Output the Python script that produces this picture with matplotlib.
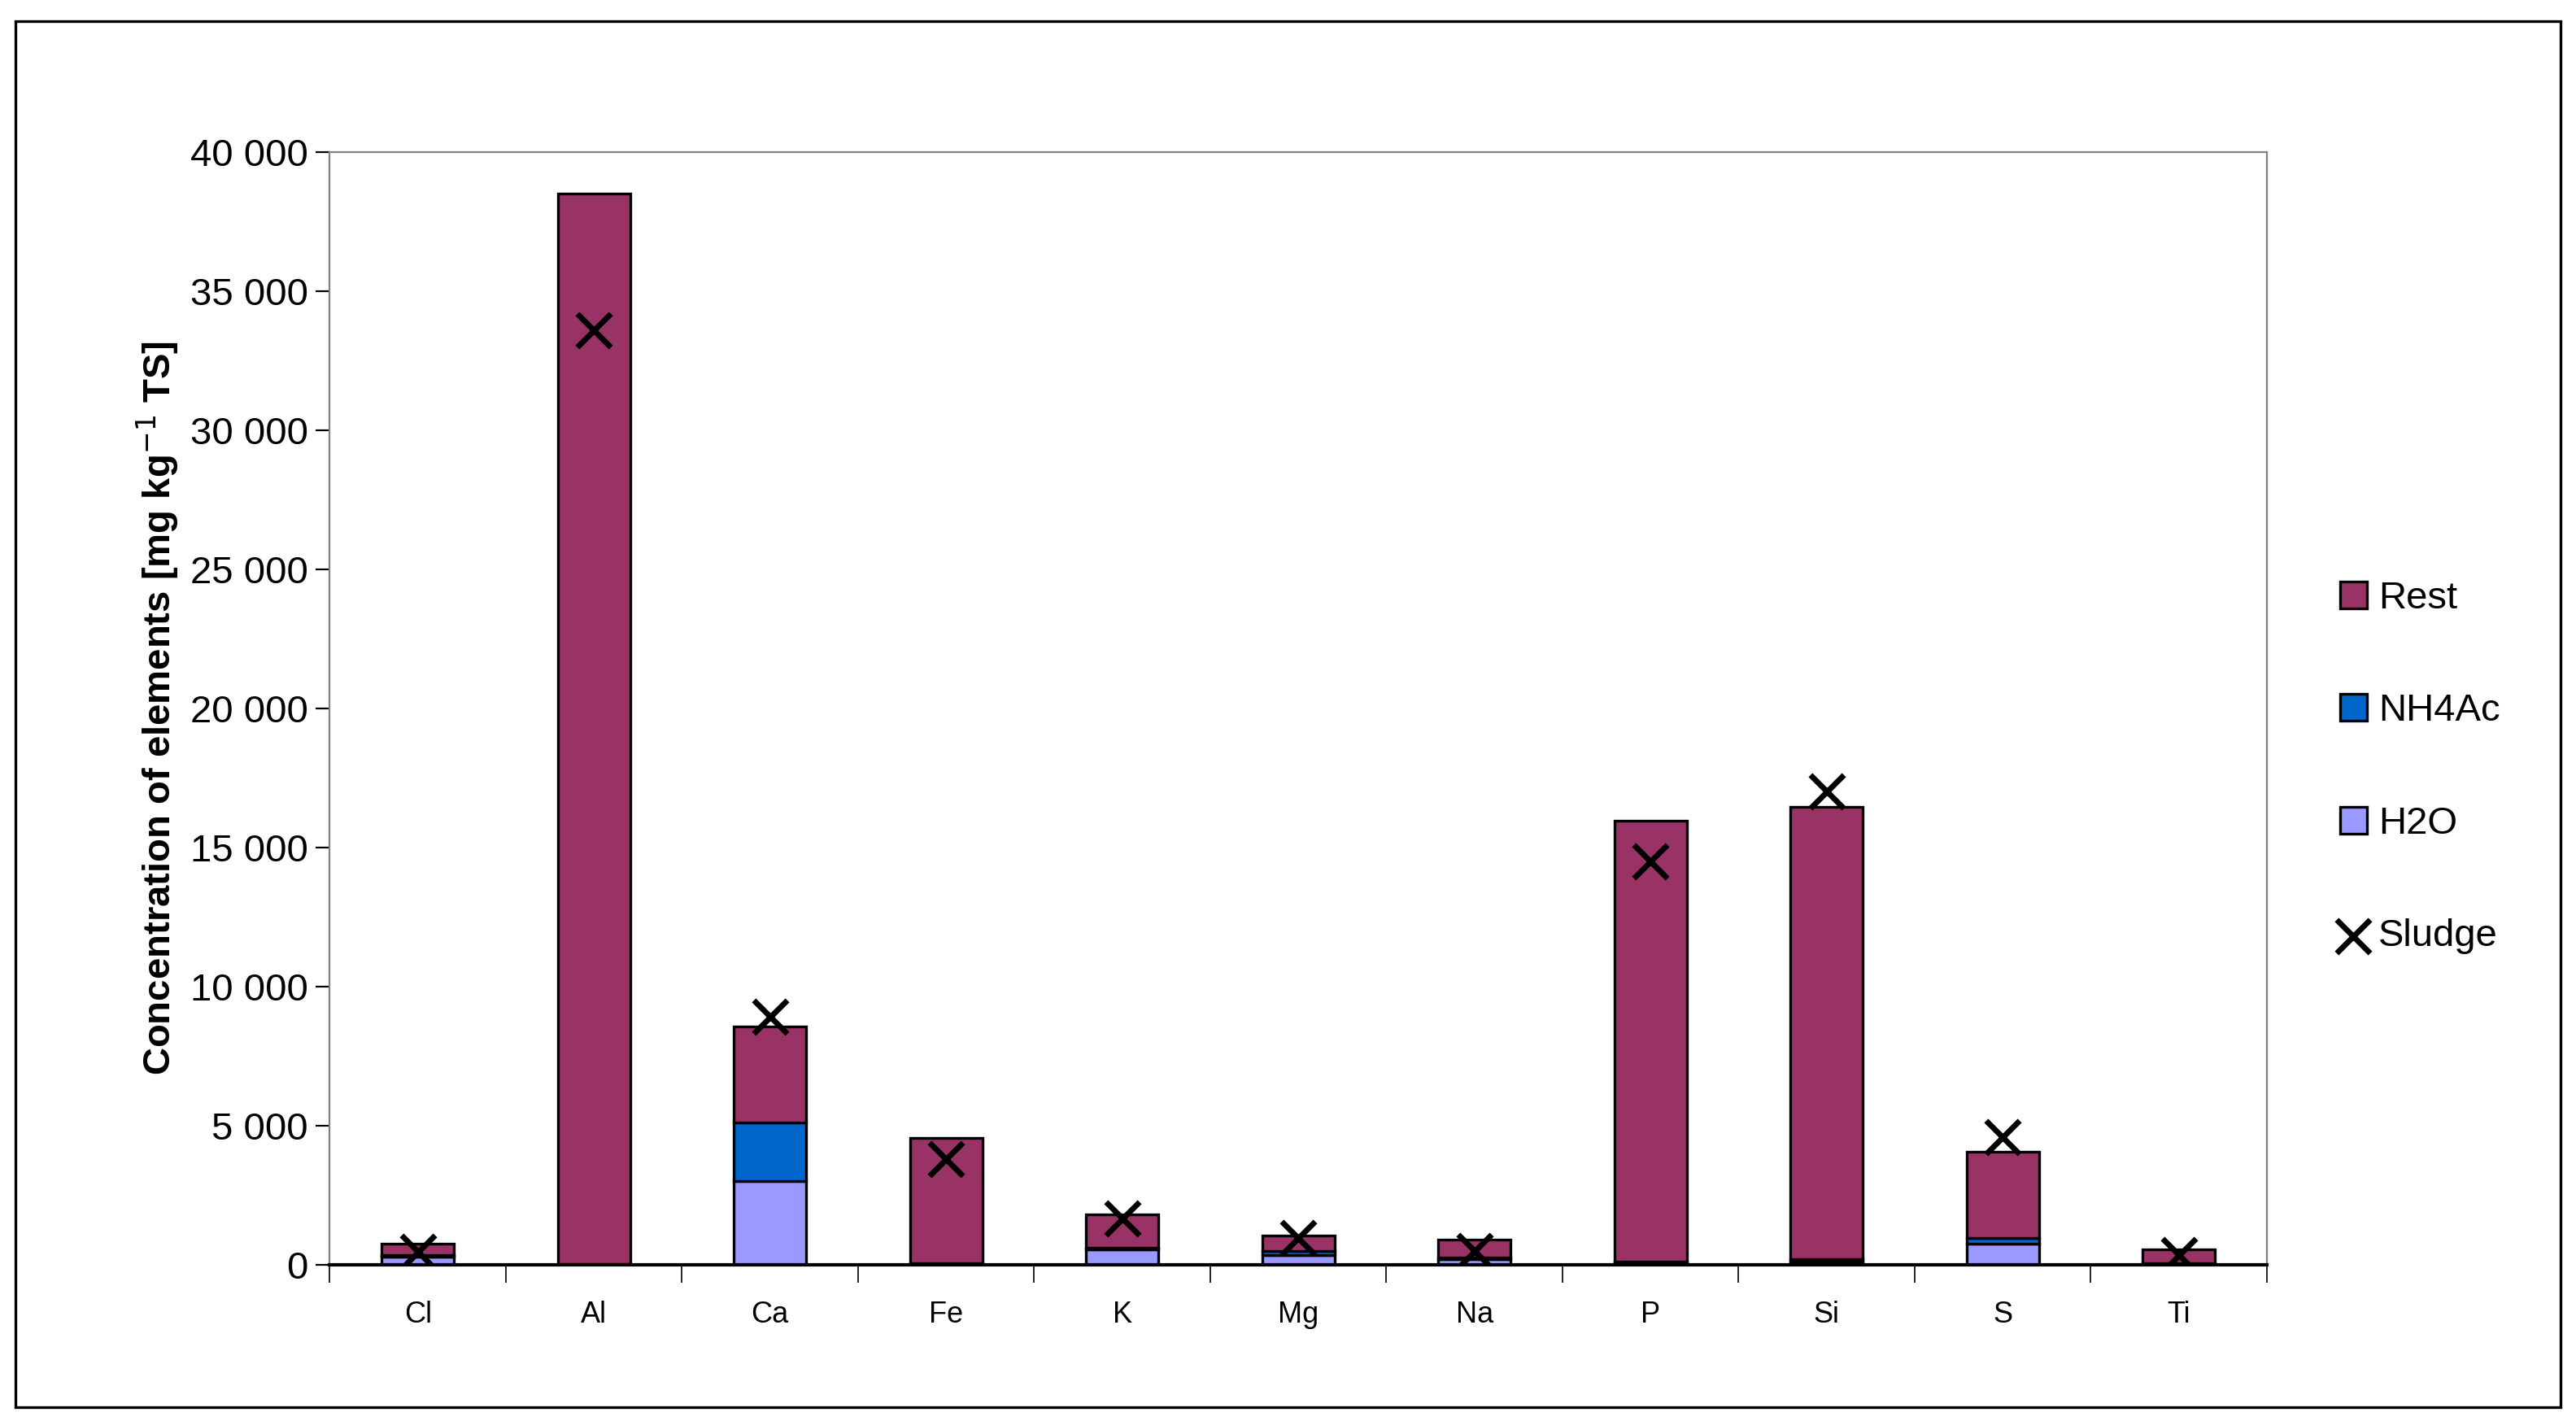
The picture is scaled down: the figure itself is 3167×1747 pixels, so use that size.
import matplotlib.pyplot as plt
import numpy as np
from matplotlib.patches import Rectangle
from matplotlib.ticker import FuncFormatter

plt.rcParams['font.family'] = ['Liberation Sans', 'DejaVu Sans']

elements = ["Cl", "Al", "Ca", "Fe", "K", "Mg", "Na", "P", "Si", "S", "Ti"]
h2o = [300, 10, 3000, 20, 550, 350, 200, 50, 100, 750, 20]
nh4ac = [50, 10, 2100, 20, 50, 150, 50, 50, 100, 200, 20]
rest = [400, 38480, 3450, 4510, 1200, 550, 650, 15850, 16250, 3100, 510]
sludge = [450, 33600, 8900, 3800, 1650, 950, 500, 14500, 17000, 4600, 350]

W, H = 3167, 1747
fig = plt.figure(figsize=(W / 200, H / 200), dpi=200)
fig.patches.append(Rectangle((0.006, 0.01), 0.988, 0.975, transform=fig.transFigure,
                             fill=False, edgecolor="black", linewidth=1.2))
ax = fig.add_axes([0.128, 0.11, 0.752, 0.783])

x = np.arange(len(elements))
w = 0.41
kw = dict(width=w, edgecolor="black", linewidth=1.2)
ax.bar(x, h2o, color="#9999FF", label="H2O", **kw)
ax.bar(x, nh4ac, bottom=h2o, color="#0066CC", label="NH4Ac", **kw)
ax.bar(x, rest, bottom=np.add(h2o, nh4ac), color="#993366", label="Rest", **kw)
ax.scatter(x, sludge, marker="x", s=220, color="black", linewidths=2.5, zorder=5, label="Sludge")

ax.set_xlim(-0.5, len(elements) - 0.5)
ax.set_ylim(0, 40000)
ax.set_yticks(np.arange(0, 40001, 5000))
ax.yaxis.set_major_formatter(FuncFormatter(lambda v, p: f"{int(v):,}".replace(",", " ")))
ax.set_xticks(x)
ax.set_xticklabels(elements)
ax.set_xticks(np.arange(-0.5, len(elements), 1), minor=True)
ax.tick_params(axis="x", which="major", length=0, labelsize=13, pad=16)
ax.tick_params(axis="x", which="minor", length=8, direction="out")
ax.tick_params(axis="y", labelsize=17, length=6)
for s in ["top", "right", "left"]:
    ax.spines[s].set_color("#808080")
ax.spines["bottom"].set_linewidth(1.5)
ax.set_ylabel("Concentration of elements [mg kg$^{-1}$ TS]", fontsize=17, fontweight="bold")

handles, labels = ax.get_legend_handles_labels()
hl = {l: h for h, l in zip(handles, labels)}
names = ["Rest", "NH4Ac", "H2O", "Sludge"]
fig.legend([hl[n] for n in names], names, loc="center left", bbox_to_anchor=(0.895, 0.46),
           frameon=False, fontsize=17, labelspacing=2.0, handlelength=0.7, handletextpad=0.3)

fig.savefig("out.png", dpi=200)
